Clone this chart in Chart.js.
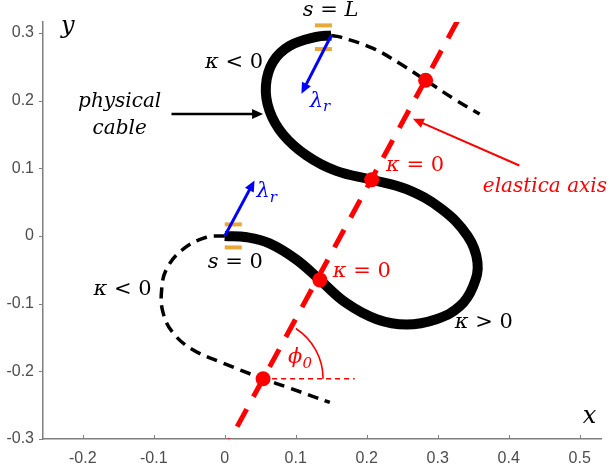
<!DOCTYPE html>
<html>
<head>
<meta charset="utf-8">
<script src="https://cdn.jsdelivr.net/npm/chart.js@4.4.1/dist/chart.umd.min.js"></script>
<style>
  html, body { margin: 0; padding: 0; background: #ffffff; }
  #wrap { width: 613px; height: 473px; }
</style>
</head>
<body>
<div id="wrap"><canvas id="elastica" width="613" height="473"></canvas></div>
<script>
'use strict'

/* axis ticks */
var xTicks = [-0.2, -0.1, 0, 0.1, 0.2, 0.3, 0.4, 0.5];
var yTicks = [-0.3, -0.2, -0.1, 0, 0.1, 0.2, 0.3];

/* physical cable, s = 0 .. L */
var cableX = [0, 0.031, 0.063, 0.101, 0.134, 0.171, 0.214, 0.256, 0.298, 0.331, 0.350, 0.356, 0.342, 0.305, 0.256, 0.207, 0.157, 0.115, 0.082, 0.063, 0.058, 0.068, 0.092, 0.129, 0.150];
var cableY = [0, -0.002, -0.011, -0.035, -0.065, -0.099, -0.123, -0.131, -0.123, -0.104, -0.074, -0.039, 0.000, 0.040, 0.069, 0.083, 0.096, 0.119, 0.150, 0.185, 0.222, 0.257, 0.281, 0.294, 0.296];

/* elastica continuation beyond s = L */
var tailTopX = [0.150, 0.162, 0.209, 0.246, 0.283, 0.322, 0.359];
var tailTopY = [0.296, 0.294, 0.277, 0.255, 0.230, 0.203, 0.180];

/* elastica continuation before s = 0 */
var tailBotX = [0, -0.026, -0.059, -0.082, -0.089, -0.087, -0.073, -0.045, -0.002, 0.054, 0.092, 0.148];
var tailBotY = [0, -0.002, -0.020, -0.049, -0.081, -0.113, -0.143, -0.168, -0.188, -0.211, -0.225, -0.246];

/* inflection points (kappa = 0) on the elastica axis */
var inflX = [0.054, 0.134, 0.207, 0.283];
var inflY = [-0.211, -0.065, 0.083, 0.230];

/* elastica axis ends */
var axisX = [0.328, 0.007];
var axisY = [0.318, -0.302];

/* horizontal reference for phi0 */
var refX = [0.054, 0.183];
var refY = [-0.211, -0.211];

/* boundary markers at s = 0 and s = L */
var markX = [[0, 0.024], [0, 0.024], [0.127, 0.151], [0.127, 0.151]];
var markY = [[0.017, 0.017], [-0.017, -0.017], [0.311, 0.311], [0.276, 0.276]];

function pts(xs, ys) {
    return xs.map(function (x, i) { return { x: x, y: ys[i] }; });
}

var mathFont = "'DejaVu Serif', 'Liberation Serif', serif";

/* arrows: tail -> tip */
var arrows = [
    { from: [0, 0], to: [0.042, 0.082], color: '#0000ff', width: 3 },
    { from: [0.150, 0.296], to: [0.108, 0.210], color: '#0000ff', width: 3 },
    { from: [-0.075, 0.180], to: [0.054, 0.180], color: '#000000', width: 2.5 },
    { from: [0.415, 0.104], to: [0.265, 0.173], color: '#ff0000', width: 2 }
];

/* text labels, runs: [text, style]  i = italic, n = normal, s = subscript */
var notes = [
    { at: [-0.221, 0.309], size: 24, color: '#000', runs: [['y', 'i']] },
    { at: [0.514, -0.267], size: 24, color: '#000', runs: [['x', 'i']] },
    { at: [0.149, 0.333], size: 21, color: '#000', runs: [['s', 'i'], [' = ', 'n'], ['L', 'i']] },
    { at: [0.013, 0.256], size: 21, color: '#000', runs: [['κ', 'i'], [' < 0', 'n']] },
    { at: [-0.148, 0.198], size: 20, color: '#000', runs: [['physical', 'i']] },
    { at: [-0.148, 0.158], size: 20, color: '#000', runs: [['cable', 'i']] },
    { at: [0.134, 0.199], size: 21, color: '#0000ff', runs: [['λ', 'i'], ['r', 's']] },
    { at: [0.059, 0.065], size: 21, color: '#0000ff', runs: [['λ', 'i'], ['r', 's']] },
    { at: [0.268, 0.104], size: 21, color: '#ff0000', runs: [['κ', 'i'], [' = 0', 'n']] },
    { at: [0.193, -0.052], size: 21, color: '#ff0000', runs: [['κ', 'i'], [' = 0', 'n']] },
    { at: [0.451, 0.073], size: 20, color: '#ff0000', runs: [['elastica axis', 'i']] },
    { at: [0.365, -0.128], size: 21, color: '#000', runs: [['κ', 'i'], [' > 0', 'n']] },
    { at: [-0.144, -0.079], size: 21, color: '#000', runs: [['κ', 'i'], [' < 0', 'n']] },
    { at: [0.015, -0.039], size: 21, color: '#000', runs: [['s', 'i'], [' = 0', 'n']] },
    { at: [0.106, -0.180], size: 21, color: '#ff0000', runs: [['ϕ', 'i'], ['0', 's']] }
];

function runFont(style, size) {
    if (style === 's') return 'italic ' + Math.round(size * 0.7) + 'px ' + mathFont;
    return (style === 'i' ? 'italic ' : '') + size + 'px ' + mathFont;
}

var annotate = {
    id: 'annotate',
    afterDatasetsDraw: function (chart) {
        var ctx = chart.ctx;
        var sx = chart.scales.x, sy = chart.scales.y;
        var area = chart.chartArea;

        /* tick marks: y outward, x inward */
        ctx.save();
        ctx.strokeStyle = '#7f7f7f';
        ctx.lineWidth = 1;
        yTicks.forEach(function (v) {
            var py = Math.round(sy.getPixelForValue(v)) + 0.5;
            ctx.beginPath(); ctx.moveTo(area.left - 4, py); ctx.lineTo(area.left, py); ctx.stroke();
        });
        xTicks.forEach(function (v) {
            var px = Math.round(sx.getPixelForValue(v)) + 0.5;
            ctx.beginPath(); ctx.moveTo(px, area.bottom); ctx.lineTo(px, area.bottom - 4); ctx.stroke();
        });
        ctx.restore();

        /* phi0 arc */
        var ax0 = sx.getPixelForValue(axisX[1]), ay0 = sy.getPixelForValue(axisY[1]);
        var ax1 = sx.getPixelForValue(axisX[0]), ay1 = sy.getPixelForValue(axisY[0]);
        var phi = Math.atan2(ay0 - ay1, ax1 - ax0);
        var cx = sx.getPixelForValue(refX[0]), cy = sy.getPixelForValue(refY[0]);
        ctx.save();
        ctx.strokeStyle = '#ff0000';
        ctx.lineWidth = 1.6;
        ctx.beginPath();
        ctx.arc(cx, cy, 60, -phi + 0.08, 0);
        ctx.stroke();
        ctx.restore();

        /* arrows */
        arrows.forEach(function (a) {
            var x0 = sx.getPixelForValue(a.from[0]), y0 = sy.getPixelForValue(a.from[1]);
            var x1 = sx.getPixelForValue(a.to[0]), y1 = sy.getPixelForValue(a.to[1]);
            var ang = Math.atan2(y1 - y0, x1 - x0);
            var hl = 11, hw = 5;
            ctx.save();
            ctx.strokeStyle = a.color;
            ctx.fillStyle = a.color;
            ctx.lineWidth = a.width;
            ctx.beginPath();
            ctx.moveTo(x0, y0);
            ctx.lineTo(x1 - Math.cos(ang) * hl * 0.8, y1 - Math.sin(ang) * hl * 0.8);
            ctx.stroke();
            ctx.beginPath();
            ctx.moveTo(x1, y1);
            ctx.lineTo(x1 - Math.cos(ang) * hl - Math.sin(ang) * hw, y1 - Math.sin(ang) * hl + Math.cos(ang) * hw);
            ctx.lineTo(x1 - Math.cos(ang) * hl + Math.sin(ang) * hw, y1 - Math.sin(ang) * hl - Math.cos(ang) * hw);
            ctx.closePath();
            ctx.fill();
            ctx.restore();
        });

        /* labels */
        notes.forEach(function (n) {
            var px = sx.getPixelForValue(n.at[0]), py = sy.getPixelForValue(n.at[1]);
            ctx.save();
            ctx.fillStyle = n.color;
            ctx.textBaseline = 'middle';
            ctx.textAlign = 'left';
            var total = 0;
            n.runs.forEach(function (r) { ctx.font = runFont(r[1], n.size); total += ctx.measureText(r[0]).width; });
            var x = px - total / 2;
            n.runs.forEach(function (r) {
                ctx.font = runFont(r[1], n.size);
                ctx.fillText(r[0], x, r[1] === 's' ? py + n.size * 0.3 : py);
                x += ctx.measureText(r[0]).width;
            });
            ctx.restore();
        });
    }
};

var datasets = [
    { data: pts(inflX, inflY), showLine: false, pointRadius: 7.5, pointBackgroundColor: '#ff0000', pointBorderWidth: 0, order: 0 },
    { data: pts(axisX, axisY), showLine: true, borderColor: '#ff0000', borderWidth: 5, borderDash: [20, 14], pointRadius: 0, order: 1 },
    { data: pts(refX, refY), showLine: true, borderColor: '#ff0000', borderWidth: 1.5, borderDash: [5, 4], pointRadius: 0, order: 2 },
    { data: pts(cableX, cableY), showLine: true, borderColor: '#000000', borderWidth: 10, tension: 0.4, pointRadius: 0, order: 3 },
    { data: pts(tailTopX, tailTopY), showLine: true, borderColor: '#000000', borderWidth: 3.5, borderDash: [11, 7], tension: 0.4, pointRadius: 0, order: 4 },
    { data: pts(tailBotX, tailBotY), showLine: true, borderColor: '#000000', borderWidth: 3.5, borderDash: [11, 7], tension: 0.4, pointRadius: 0, order: 4 }
];
markX.forEach(function (mx, i) {
    datasets.push({ data: pts(mx, markY[i]), showLine: true, borderColor: '#e8a93a', borderWidth: 4, pointRadius: 0, order: 5 });
});

var tickFont = { family: "'Liberation Sans', Arial, sans-serif", size: 16 };

var elasticaChart = new Chart(document.getElementById('elastica').getContext('2d'), {
    type: 'scatter',
    data: { datasets: datasets },
    plugins: [annotate],
    options: {
        responsive: false,
        animation: false,
        layout: { padding: { top: 22, right: 12, left: 0, bottom: 0 } },
        plugins: {
            legend: { display: false },
            tooltip: { enabled: false }
        },
        scales: {
            x: {
                type: 'linear',
                min: -0.256,
                max: 0.53,
                grid: { display: false, drawTicks: false },
                border: { color: '#7f7f7f', width: 1.5 },
                afterBuildTicks: function (s) { s.ticks = xTicks.map(function (v) { return { value: v }; }); },
                afterFit: function (s) { s.height = 34; },
                ticks: {
                    color: '#4d4d4d',
                    font: tickFont,
                    padding: 10,
                    maxRotation: 0,
                    callback: function (v) { return v === 0 ? '0' : v.toFixed(1); }
                }
            },
            y: {
                type: 'linear',
                min: -0.3,
                max: 0.316,
                grid: { display: false, drawTicks: false },
                border: { color: '#7f7f7f', width: 1.5 },
                afterBuildTicks: function (s) { s.ticks = yTicks.map(function (v) { return { value: v }; }); },
                afterFit: function (s) { s.width = 43; },
                ticks: {
                    color: '#4d4d4d',
                    font: tickFont,
                    padding: 9,
                    callback: function (v) { return v === 0 ? '0' : v.toFixed(1); }
                }
            }
        }
    }
});
</script>
</body>
</html>
